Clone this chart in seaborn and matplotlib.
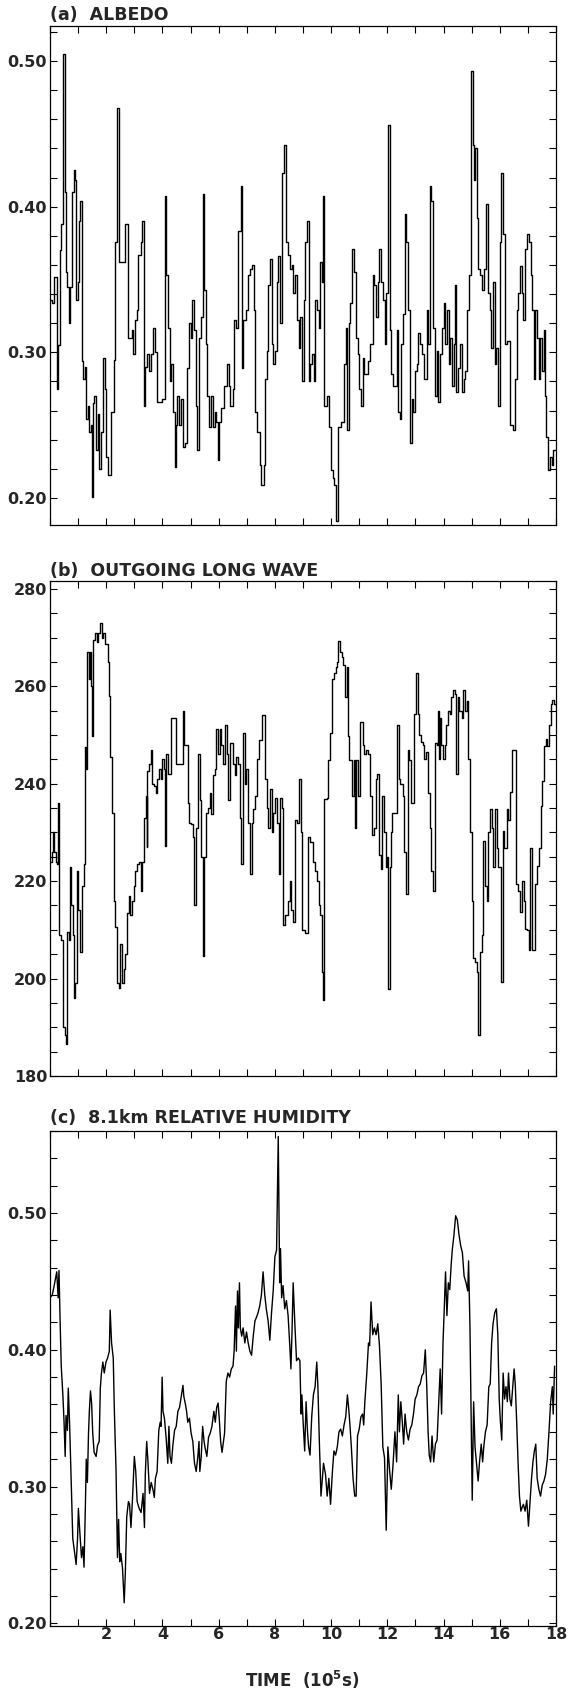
import matplotlib
matplotlib.use("Agg")
import matplotlib.pyplot as plt
import seaborn as sns
import numpy as np
from matplotlib.ticker import MultipleLocator, FixedLocator, FormatStrFormatter, NullFormatter

# ---------------- data (time in 1e5 s) ----------------
ALBEDO_TIME = [
    0.00, 0.08, 0.14, 0.20, 0.26, 0.30, 0.34, 0.40, 0.46, 0.52,
    0.56, 0.62, 0.68, 0.72, 0.78, 0.84, 0.88, 0.92, 0.98, 1.04,
    1.08, 1.13, 1.18, 1.24, 1.28, 1.34, 1.40, 1.46, 1.49, 1.53,
    1.58, 1.64, 1.70, 1.76, 1.82, 1.88, 1.94, 2.00, 2.08, 2.18,
    2.26, 2.32, 2.40, 2.45, 2.66, 2.76, 2.90, 2.96, 3.02, 3.10,
    3.14, 3.22, 3.29, 3.34, 3.38, 3.46, 3.52, 3.60, 3.68, 3.74,
    3.80, 3.98, 4.08, 4.14, 4.20, 4.26, 4.32, 4.38, 4.44, 4.48,
    4.52, 4.58, 4.66, 4.72, 4.80, 4.88, 4.94, 5.00, 5.06, 5.12,
    5.20, 5.24, 5.30, 5.38, 5.44, 5.48, 5.54, 5.60, 5.66, 5.72,
    5.80, 5.86, 5.90, 5.96, 6.02, 6.10, 6.20, 6.28, 6.36, 6.42,
    6.50, 6.56, 6.62, 6.68, 6.80, 6.84, 6.88, 6.96, 7.04, 7.10,
    7.18, 7.24, 7.28, 7.36, 7.46, 7.52, 7.60, 7.66, 7.72, 7.76,
    7.82, 7.88, 7.94, 8.00, 8.06, 8.12, 8.18, 8.27, 8.33, 8.39,
    8.46, 8.54, 8.60, 8.66, 8.72, 8.78, 8.84, 8.90, 8.96, 9.02,
    9.08, 9.14, 9.20, 9.26, 9.32, 9.38, 9.44, 9.50, 9.56, 9.62,
    9.67, 9.71, 9.76, 9.86, 9.92, 9.98, 10.06, 10.12, 10.16, 10.26,
    10.36, 10.46, 10.52, 10.58, 10.62, 10.68, 10.76, 10.82, 10.88, 10.94,
    11.00, 11.06, 11.12, 11.18, 11.32, 11.40, 11.48, 11.54, 11.60, 11.66,
    11.72, 11.78, 11.84, 11.90, 11.96, 12.02, 12.08, 12.14, 12.20, 12.34,
    12.38, 12.44, 12.50, 12.56, 12.62, 12.68, 12.74, 12.80, 12.86, 12.92,
    12.98, 13.04, 13.10, 13.16, 13.22, 13.30, 13.40, 13.46, 13.52, 13.56,
    13.62, 13.70, 13.76, 13.82, 13.88, 13.94, 14.00, 14.06, 14.12, 14.18,
    14.24, 14.30, 14.36, 14.42, 14.46, 14.52, 14.58, 14.64, 14.71, 14.78,
    14.83, 14.90, 14.99, 15.04, 15.10, 15.13, 15.18, 15.23, 15.30, 15.37,
    15.44, 15.52, 15.58, 15.64, 15.70, 15.76, 15.82, 15.88, 15.94, 16.00,
    16.06, 16.12, 16.18, 16.26, 16.36, 16.46, 16.54, 16.60, 16.66, 16.72,
    16.78, 16.84, 16.90, 16.96, 17.04, 17.10, 17.16, 17.20, 17.26, 17.32,
    17.38, 17.44, 17.50, 17.56, 17.60, 17.66, 17.72, 17.78, 17.84, 17.90,
    18.00,
]
ALBEDO = [
    0.336, 0.334, 0.352, 0.352, 0.275, 0.305, 0.370, 0.388, 0.505, 0.410,
    0.355, 0.345, 0.320, 0.345, 0.410, 0.425, 0.418, 0.336, 0.348, 0.390,
    0.404, 0.294, 0.282, 0.290, 0.254, 0.263, 0.245, 0.250, 0.201, 0.265,
    0.270, 0.233, 0.258, 0.220, 0.245, 0.296, 0.275, 0.228, 0.216, 0.259,
    0.295, 0.376, 0.468, 0.362, 0.388, 0.310, 0.315, 0.299, 0.322, 0.329,
    0.367, 0.376, 0.390, 0.263, 0.290, 0.299, 0.287, 0.299, 0.317, 0.300,
    0.266, 0.268, 0.407, 0.353, 0.317, 0.280, 0.292, 0.259, 0.221, 0.250,
    0.270, 0.250, 0.268, 0.235, 0.238, 0.289, 0.320, 0.310, 0.336, 0.315,
    0.263, 0.233, 0.310, 0.324, 0.409, 0.343, 0.306, 0.270, 0.249, 0.270,
    0.249, 0.259, 0.252, 0.226, 0.252, 0.262, 0.277, 0.292, 0.277, 0.263,
    0.275, 0.322, 0.317, 0.383, 0.414, 0.289, 0.322, 0.329, 0.353, 0.357,
    0.360, 0.329, 0.259, 0.245, 0.223, 0.209, 0.223, 0.282, 0.301, 0.346,
    0.364, 0.306, 0.292, 0.301, 0.348, 0.366, 0.320, 0.423, 0.442, 0.376,
    0.367, 0.357, 0.360, 0.341, 0.353, 0.322, 0.303, 0.324, 0.280, 0.336,
    0.376, 0.390, 0.280, 0.292, 0.299, 0.280, 0.336, 0.329, 0.317, 0.362,
    0.348, 0.407, 0.263, 0.270, 0.249, 0.219, 0.214, 0.209, 0.184, 0.249,
    0.252, 0.292, 0.317, 0.247, 0.320, 0.334, 0.371, 0.355, 0.310, 0.299,
    0.275, 0.263, 0.296, 0.285, 0.294, 0.306, 0.353, 0.346, 0.324, 0.348,
    0.371, 0.348, 0.336, 0.306, 0.341, 0.456, 0.315, 0.285, 0.277, 0.315,
    0.259, 0.254, 0.306, 0.326, 0.395, 0.376, 0.329, 0.238, 0.268, 0.259,
    0.287, 0.292, 0.313, 0.306, 0.299, 0.282, 0.329, 0.306, 0.414, 0.404,
    0.317, 0.270, 0.301, 0.266, 0.299, 0.317, 0.334, 0.306, 0.329, 0.292,
    0.310, 0.277, 0.306, 0.346, 0.273, 0.289, 0.306, 0.273, 0.282, 0.287,
    0.329, 0.353, 0.493, 0.442, 0.418, 0.440, 0.392, 0.357, 0.353, 0.343,
    0.357, 0.402, 0.341, 0.329, 0.303, 0.348, 0.292, 0.303, 0.263, 0.376,
    0.423, 0.381, 0.306, 0.308, 0.250, 0.247, 0.282, 0.329, 0.341, 0.359,
    0.341, 0.322, 0.371, 0.381, 0.376, 0.353, 0.329, 0.282, 0.329, 0.310,
    0.282, 0.310, 0.287, 0.315, 0.270, 0.242, 0.219, 0.228, 0.223, 0.233,
    0.233,
]

OLR_TIME = [
    0.00, 0.06, 0.11, 0.16, 0.20, 0.26, 0.29, 0.33, 0.40, 0.47,
    0.53, 0.56, 0.61, 0.66, 0.71, 0.74, 0.82, 0.85, 0.90, 0.95,
    1.01, 1.07, 1.13, 1.20, 1.25, 1.29, 1.33, 1.38, 1.43, 1.46,
    1.49, 1.53, 1.60, 1.66, 1.72, 1.78, 1.84, 1.90, 1.97, 2.05,
    2.10, 2.14, 2.20, 2.26, 2.32, 2.38, 2.44, 2.50, 2.56, 2.62,
    2.68, 2.74, 2.80, 2.86, 2.92, 2.98, 3.04, 3.10, 3.16, 3.22,
    3.28, 3.34, 3.40, 3.44, 3.46, 3.52, 3.58, 3.64, 3.70, 3.76,
    3.82, 3.88, 3.94, 4.00, 4.06, 4.10, 4.14, 4.18, 4.30, 4.48,
    4.66, 4.72, 4.78, 4.90, 4.96, 5.02, 5.10, 5.14, 5.20, 5.26,
    5.32, 5.38, 5.44, 5.48, 5.56, 5.62, 5.68, 5.74, 5.80, 5.86,
    5.92, 5.98, 6.04, 6.10, 6.16, 6.22, 6.28, 6.34, 6.40, 6.51,
    6.57, 6.63, 6.69, 6.75, 6.81, 6.87, 6.93, 6.99, 7.05, 7.11,
    7.17, 7.23, 7.29, 7.35, 7.45, 7.53, 7.65, 7.71, 7.77, 7.83,
    7.89, 7.95, 8.01, 8.07, 8.13, 8.19, 8.25, 8.30, 8.36, 8.46,
    8.52, 8.58, 8.64, 8.70, 8.80, 8.86, 8.92, 8.97, 9.06, 9.18,
    9.26, 9.34, 9.42, 9.50, 9.56, 9.62, 9.68, 9.72, 9.76, 9.86,
    9.90, 9.96, 10.02, 10.10, 10.16, 10.22, 10.26, 10.32, 10.40, 10.44,
    10.50, 10.56, 10.60, 10.64, 10.74, 10.80, 10.86, 10.90, 10.96, 11.04,
    11.12, 11.16, 11.24, 11.32, 11.40, 11.46, 11.52, 11.58, 11.64, 11.70,
    11.76, 11.82, 11.88, 11.94, 12.00, 12.03, 12.08, 12.14, 12.18, 12.30,
    12.36, 12.40, 12.46, 12.54, 12.60, 12.66, 12.72, 12.78, 12.84, 12.92,
    12.96, 13.02, 13.08, 13.14, 13.20, 13.26, 13.32, 13.38, 13.44, 13.50,
    13.56, 13.62, 13.68, 13.71, 13.78, 13.80, 13.84, 13.86, 13.92, 13.98,
    14.04, 14.10, 14.16, 14.22, 14.28, 14.34, 14.40, 14.46, 14.50, 14.56,
    14.64, 14.70, 14.76, 14.82, 14.88, 14.94, 15.00, 15.06, 15.12, 15.20,
    15.24, 15.28, 15.36, 15.41, 15.47, 15.53, 15.59, 15.65, 15.71, 15.77,
    15.83, 15.89, 15.95, 16.04, 16.10, 16.16, 16.25, 16.31, 16.37, 16.43,
    16.55, 16.59, 16.66, 16.73, 16.79, 16.85, 16.91, 16.97, 17.03, 17.09,
    17.15, 17.21, 17.27, 17.33, 17.39, 17.45, 17.51, 17.57, 17.63, 17.69,
    17.75, 17.81, 17.87, 17.93, 18.00,
]
OLR = [
    224, 226, 230, 226, 224, 223.5, 236, 209, 208, 190,
    188.5, 186.5, 209.5, 208, 223, 215, 209, 196, 199, 222,
    214, 205.5, 219, 223.5, 247.5, 243, 267, 261.5, 267, 260,
    249.8, 269.5, 271, 269, 271, 273, 270, 271, 268.7, 265,
    258, 245.5, 234, 216, 210.5, 199, 198, 207, 199, 202,
    205, 213.5, 217, 213, 216, 219, 222, 223.5, 224, 218,
    224, 233, 237.5, 227, 242.5, 244, 247, 240, 239.6, 238,
    241, 243, 241, 245, 243, 227.3, 246, 242, 253.5, 244,
    244, 255, 248, 236, 232, 231.7, 229, 215, 231, 246,
    236.7, 225, 204.7, 225, 234, 235, 238, 233.8, 241.8, 243,
    251.3, 246, 251.3, 248, 244, 252, 246, 236.7, 248.4, 244,
    241.8, 245.5, 244, 233, 223.6, 250.5, 240, 243, 232, 221.5,
    232, 234.7, 237.5, 245, 249, 254, 241, 235, 231, 239,
    230, 234, 237, 232, 221.5, 237, 235, 211, 213, 216,
    220, 214, 211.6, 232.5, 232, 241, 230, 210, 209.4, 229,
    228, 224, 222, 220, 215, 213, 201.4, 195.7, 236.8, 237,
    244.8, 250.5, 261.4, 262.8, 264, 265, 269.3, 267, 266, 264.3,
    257.8, 264, 249.8, 244.8, 237.5, 244.8, 231, 244.8, 237.5, 252.7,
    248, 246, 247, 246, 237.5, 229.5, 231, 241, 242, 225.3,
    222.4, 237.5, 230, 223, 225, 197.8, 223, 230, 233.9, 234,
    252, 241, 240, 237.5, 226, 217.3, 246.9, 244.8, 236.1, 236,
    254.2, 262.8, 254.2, 250, 248.5, 248, 245, 246.5, 238, 231,
    222, 218, 219.5, 248.4, 248, 254.9, 245, 253.5, 248, 245,
    248, 252, 254.9, 254.2, 257.8, 259.2, 258.5, 241.9, 257.8, 255,
    253.5, 259.2, 255, 257, 245, 230, 215.9, 204.3, 203.5, 201.4,
    188.4, 205.5, 209, 228.2, 219, 216, 230, 234.7, 231, 223,
    234.7, 226.7, 223, 199.3, 230.3, 226.7, 234.7, 232.5, 238.3, 246.9,
    246.9, 219.5, 218, 213.7, 220, 216, 210.1, 210, 205.8, 226.7,
    205.8, 205.8, 219.5, 223.1, 226.7, 235.4, 240.5, 247.7, 249.1, 247.7,
    252, 256.4, 257.1, 256.4, 256,
]

RH_TIME = [
    0.00, 0.08, 0.14, 0.24, 0.29, 0.32, 0.36, 0.40, 0.46, 0.50,
    0.54, 0.57, 0.62, 0.65, 0.70, 0.76, 0.81, 0.86, 0.93, 0.98,
    1.01, 1.06, 1.12, 1.17, 1.21, 1.26, 1.29, 1.33, 1.37, 1.40,
    1.44, 1.48, 1.52, 1.57, 1.64, 1.69, 1.75, 1.79, 1.83, 1.88,
    1.93, 1.99, 2.05, 2.11, 2.14, 2.19, 2.25, 2.29, 2.35, 2.40,
    2.44, 2.48, 2.52, 2.58, 2.64, 2.68, 2.73, 2.79, 2.83, 2.88,
    2.93, 3.00, 3.05, 3.10, 3.17, 3.24, 3.31, 3.36, 3.39, 3.44,
    3.48, 3.54, 3.60, 3.67, 3.71, 3.75, 3.81, 3.87, 3.92, 3.95,
    3.99, 4.02, 4.07, 4.13, 4.19, 4.23, 4.27, 4.32, 4.37, 4.43,
    4.49, 4.55, 4.61, 4.67, 4.73, 4.76, 4.81, 4.86, 4.90, 4.96,
    5.02, 5.08, 5.14, 5.20, 5.26, 5.30, 5.33, 5.38, 5.43, 5.48,
    5.52, 5.58, 5.64, 5.70, 5.76, 5.83, 5.88, 5.93, 5.98, 6.02,
    6.07, 6.12, 6.17, 6.21, 6.27, 6.33, 6.39, 6.45, 6.51, 6.55,
    6.60, 6.63, 6.67, 6.70, 6.74, 6.77, 6.82, 6.87, 6.93, 6.99,
    7.05, 7.11, 7.17, 7.23, 7.29, 7.35, 7.40, 7.46, 7.52, 7.58,
    7.64, 7.70, 7.76, 7.82, 7.88, 7.94, 8.00, 8.06, 8.12, 8.17,
    8.20, 8.24, 8.29, 8.35, 8.41, 8.47, 8.53, 8.57, 8.61, 8.65,
    8.71, 8.77, 8.83, 8.89, 8.93, 8.96, 9.01, 9.06, 9.11, 9.16,
    9.20, 9.25, 9.31, 9.37, 9.43, 9.49, 9.53, 9.58, 9.64, 9.69,
    9.73, 9.80, 9.86, 9.92, 9.98, 10.04, 10.10, 10.16, 10.22, 10.28,
    10.34, 10.40, 10.46, 10.52, 10.58, 10.63, 10.67, 10.72, 10.78, 10.84,
    10.89, 10.94, 11.00, 11.06, 11.12, 11.16, 11.20, 11.27, 11.33, 11.37,
    11.42, 11.48, 11.54, 11.60, 11.66, 11.72, 11.78, 11.84, 11.90, 11.96,
    12.02, 12.08, 12.14, 12.20, 12.27, 12.33, 12.39, 12.43, 12.48, 12.53,
    12.58, 12.63, 12.69, 12.75, 12.81, 12.87, 12.93, 12.99, 13.05, 13.11,
    13.17, 13.23, 13.29, 13.35, 13.40, 13.45, 13.49, 13.54, 13.59, 13.65,
    13.71, 13.77, 13.83, 13.88, 13.93, 13.98, 14.02, 14.07, 14.12, 14.17,
    14.22, 14.27, 14.31, 14.37, 14.43, 14.49, 14.55, 14.61, 14.67, 14.73,
    14.80, 14.86, 14.89, 14.94, 14.99, 15.02, 15.07, 15.12, 15.18, 15.23,
    15.28, 15.34, 15.39, 15.43, 15.49, 15.55, 15.61, 15.66, 15.71, 15.76,
    15.82, 15.88, 15.93, 15.98, 16.02, 16.07, 16.12, 16.17, 16.22, 16.27,
    16.31, 16.36, 16.41, 16.46, 16.51, 16.55, 16.60, 16.65, 16.70, 16.75,
    16.80, 16.84, 16.90, 16.96, 17.02, 17.08, 17.13, 17.18, 17.23, 17.28,
    17.33, 17.39, 17.45, 17.51, 17.57, 17.63, 17.69, 17.75, 17.81, 17.87,
    17.90, 17.95,
]
RH = [
    0.438, 0.440, 0.446, 0.457, 0.438, 0.458, 0.421, 0.388, 0.366, 0.347,
    0.322, 0.352, 0.341, 0.372, 0.344, 0.300, 0.262, 0.254, 0.243, 0.262,
    0.284, 0.267, 0.248, 0.256, 0.241, 0.287, 0.320, 0.303, 0.339, 0.355,
    0.370, 0.361, 0.339, 0.325, 0.322, 0.330, 0.333, 0.372, 0.383, 0.391,
    0.383, 0.391, 0.394, 0.399, 0.429, 0.405, 0.394, 0.355, 0.311, 0.248,
    0.276, 0.245, 0.251, 0.240, 0.215, 0.237, 0.278, 0.289, 0.287, 0.270,
    0.289, 0.322, 0.311, 0.289, 0.284, 0.281, 0.295, 0.270, 0.309, 0.333,
    0.320, 0.295, 0.303, 0.297, 0.292, 0.306, 0.311, 0.341, 0.347, 0.344,
    0.380, 0.355, 0.350, 0.336, 0.317, 0.344, 0.322, 0.317, 0.330, 0.341,
    0.344, 0.355, 0.358, 0.366, 0.374, 0.366, 0.361, 0.355, 0.347, 0.350,
    0.339, 0.333, 0.317, 0.311, 0.322, 0.333, 0.311, 0.322, 0.344, 0.333,
    0.328, 0.322, 0.336, 0.339, 0.344, 0.355, 0.347, 0.358, 0.361, 0.350,
    0.333, 0.325, 0.333, 0.339, 0.377, 0.383, 0.380, 0.386, 0.388, 0.399,
    0.432, 0.399, 0.443, 0.416, 0.449, 0.416, 0.410, 0.416, 0.405, 0.413,
    0.405, 0.399, 0.396, 0.410, 0.421, 0.424, 0.427, 0.432, 0.440, 0.457,
    0.440, 0.429, 0.421, 0.407, 0.427, 0.443, 0.468, 0.473, 0.556, 0.449,
    0.474, 0.438, 0.447, 0.430, 0.436, 0.425, 0.403, 0.386, 0.414, 0.449,
    0.419, 0.392, 0.394, 0.392, 0.353, 0.367, 0.345, 0.326, 0.362, 0.340,
    0.329, 0.323, 0.351, 0.367, 0.373, 0.391, 0.373, 0.334, 0.293, 0.306,
    0.317, 0.309, 0.293, 0.306, 0.287, 0.309, 0.326, 0.323, 0.329, 0.340,
    0.342, 0.337, 0.345, 0.351, 0.367, 0.356, 0.345, 0.329, 0.306, 0.293,
    0.293, 0.337, 0.342, 0.351, 0.353, 0.345, 0.362, 0.383, 0.405, 0.403,
    0.435, 0.411, 0.416, 0.411, 0.419, 0.403, 0.375, 0.329, 0.321, 0.268,
    0.329, 0.312, 0.298, 0.315, 0.340, 0.318, 0.367, 0.340, 0.362, 0.348,
    0.331, 0.353, 0.340, 0.334, 0.342, 0.345, 0.353, 0.364, 0.367, 0.373,
    0.375, 0.381, 0.383, 0.400, 0.375, 0.340, 0.323, 0.318, 0.337, 0.318,
    0.331, 0.334, 0.362, 0.386, 0.353, 0.405, 0.427, 0.457, 0.425, 0.449,
    0.444, 0.462, 0.473, 0.484, 0.498, 0.495, 0.484, 0.476, 0.471, 0.454,
    0.449, 0.443, 0.465, 0.416, 0.340, 0.290, 0.362, 0.329, 0.315, 0.304,
    0.318, 0.331, 0.318, 0.329, 0.340, 0.345, 0.373, 0.375, 0.405, 0.419,
    0.427, 0.430, 0.411, 0.364, 0.348, 0.334, 0.383, 0.364, 0.373, 0.362,
    0.383, 0.364, 0.359, 0.373, 0.386, 0.375, 0.348, 0.318, 0.293, 0.282,
    0.285, 0.287, 0.282, 0.290, 0.271, 0.290, 0.306, 0.318, 0.326, 0.331,
    0.306, 0.298, 0.293, 0.301, 0.304, 0.309, 0.320, 0.340, 0.362, 0.373,
    0.353, 0.388,
]

TITLES = ["(a)  ALBEDO", "(b)  OUTGOING LONG WAVE", "(c)  8.1km RELATIVE HUMIDITY"]
X_TICKS = [2, 4, 6, 8, 10, 12, 14, 16, 18]
X_LABEL = "TIME  (10$^{5}$s)"

assert len(ALBEDO_TIME) == len(ALBEDO)
assert len(OLR_TIME) == len(OLR)
assert len(RH_TIME) == len(RH)

# ---------------- style ----------------
sns.set_style("ticks")
plt.rcParams["font.family"] = ["DejaVu Sans"]
plt.rcParams["font.weight"] = "bold"
plt.rcParams["mathtext.fontset"] = "dejavusans"
plt.rcParams["mathtext.default"] = "bf"

W_PX, H_PX = 568, 1689
fig = plt.figure(figsize=(W_PX / 100, H_PX / 100), dpi=100)
fig.patch.set_facecolor("white")

L_PX, R_PX = 50, 556


def axes_at(top, bottom):
    return fig.add_axes([L_PX / W_PX, 1 - bottom / H_PX,
                         (R_PX - L_PX) / W_PX, (bottom - top) / H_PX])


ax_a = axes_at(26, 525)
ax_b = axes_at(581, 1076)
ax_c = axes_at(1131, 1626)

LINE = dict(color="black", estimator=None, sort=False, legend=False)
sns.lineplot(x=ALBEDO_TIME, y=ALBEDO, ax=ax_a, linewidth=1.0,
             drawstyle="steps-post", **LINE)
sns.lineplot(x=OLR_TIME, y=OLR, ax=ax_b, linewidth=1.0,
             drawstyle="steps-post", **LINE)
sns.lineplot(x=RH_TIME, y=RH, ax=ax_c, linewidth=1.0, **LINE)


def style(ax, ylim, major, minor, fmt, show_x):
    ax.set_xlim(0, 18)
    ax.set_ylim(*ylim)
    ax.xaxis.set_major_locator(FixedLocator(X_TICKS))
    ax.xaxis.set_minor_locator(MultipleLocator(1))
    ax.yaxis.set_major_locator(MultipleLocator(major))
    ax.yaxis.set_minor_locator(MultipleLocator(minor))
    ax.yaxis.set_major_formatter(FormatStrFormatter(fmt))
    ax.tick_params(which="both", direction="in", top=True, right=True,
                   width=0.8, length=5, color="black")
    ax.tick_params(axis="y", labelsize=11.5, pad=2)
    ax.tick_params(axis="x", labelsize=11.5, pad=1)
    if not show_x:
        ax.xaxis.set_major_formatter(NullFormatter())
    for s in ax.spines.values():
        s.set_linewidth(0.9)
        s.set_color("black")
    ax.set_xlabel("")
    ax.set_ylabel("")
    ax.set_facecolor("white")


style(ax_a, (0.1815, 0.524), 0.1, 0.02, "%.2f", False)
style(ax_b, (180, 281.6), 20, 5, "%d", False)
style(ax_c, (0.198, 0.560), 0.1, 0.02, "%.2f", True)

for title, ypx in zip(TITLES, [15, 571, 1118]):
    fig.text(50 / W_PX, 1 - ypx / H_PX, title, fontsize=12.5,
             fontweight="bold", ha="left", va="center")

fig.text(302 / W_PX, 1 - 1680 / H_PX, X_LABEL, fontsize=12,
         fontweight="bold", ha="center", va="center")

fig.savefig("out.png", dpi=100, facecolor="white")
